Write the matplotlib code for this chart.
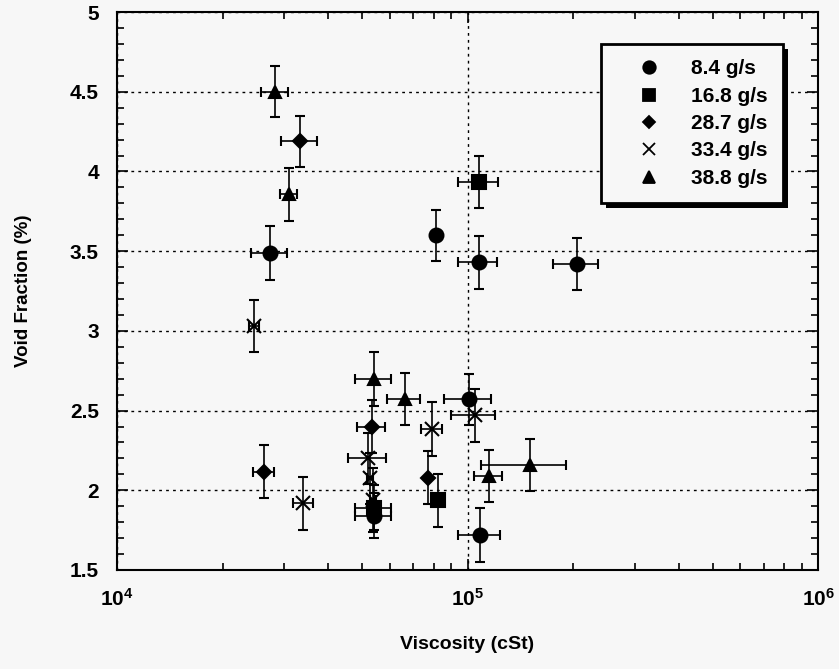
import numpy as np
import matplotlib
matplotlib.use("Agg")
import matplotlib.pyplot as plt
from matplotlib.lines import Line2D
from matplotlib.patches import Rectangle
from matplotlib.transforms import IdentityTransform
from matplotlib.ticker import MultipleLocator, LogLocator, FixedLocator, FixedFormatter

plt.rcParams['font.family'] = ['Liberation Sans', 'DejaVu Sans']
plt.rcParams['font.weight'] = 'bold'
plt.rcParams['mathtext.fontset'] = 'custom'
plt.rcParams['mathtext.rm'] = 'Liberation Sans:bold'
plt.rcParams['mathtext.default'] = 'rm'

#******** Data **********************************
labels = ['8.4 g/s', '16.8 g/s', '28.7 g/s', '33.4 g/s', '38.8 g/s']
markers = ['o', 's', 'D', 'x', '^']

# 8.4 g/s
visc_84 = [27300, 81100, 107700, 205000, 101300, 108700, 54000]
void_84 = [3.49, 3.60, 3.43, 3.42, 2.57, 1.72, 1.84]
xerr_84 = [3200, 1500, 14000, 30000, 15500, 15000, 6300]
yerr_84 = [0.17, 0.16, 0.165, 0.165, 0.16, 0.17, 0.14]

# 16.8 g/s
visc_168 = [108000, 82200, 54000]
void_168 = [3.935, 1.937, 1.89]
xerr_168 = [14000, 1500, 6300]
yerr_168 = [0.165, 0.165, 0.14]

# 28.7 g/s
visc_287 = [33200, 26200, 53300, 77100]
void_287 = [4.19, 2.116, 2.40, 2.08]
xerr_287 = [3900, 1800, 4900, 1200]
yerr_287 = [0.16, 0.165, 0.165, 0.165]

# 33.4 g/s
visc_334 = [24600, 34000, 52100, 52800, 53700, 79100, 104800]
void_334 = [3.03, 1.918, 2.20, 2.075, 1.94, 2.384, 2.47]
xerr_334 = [800, 2300, 6500, 1000, 1000, 5300, 15000]
yerr_334 = [0.165, 0.165, 0.16, 0.16, 0.2, 0.17, 0.165]

# 38.8 g/s
visc_388 = [28300, 30900, 54000, 66100, 115000, 150500]
void_388 = [4.50, 3.856, 2.70, 2.572, 2.089, 2.158]
xerr_388 = [2500, 1800, 6400, 7000, 10500, 41000]
yerr_388 = [0.16, 0.165, 0.17, 0.165, 0.165, 0.165]

series = [(visc_84, void_84, xerr_84, yerr_84),
          (visc_168, void_168, xerr_168, yerr_168),
          (visc_287, void_287, xerr_287, yerr_287),
          (visc_334, void_334, xerr_334, yerr_334),
          (visc_388, void_388, xerr_388, yerr_388)]
msizes = [10, 10, 7, 10, 9]

bg = '#f7f7f7'
fig = plt.figure(figsize=(8.39, 6.69), dpi=100, facecolor=bg)
ax = fig.add_axes([0.1395, 0.148, 0.8355, 0.834], facecolor=bg)

for (x, y, xe, ye), m, ms in zip(series, markers, msizes):
    ax.errorbar(x, y, xerr=xe, yerr=ye, fmt=m, color='k', ms=ms, mew=1.5,
                ecolor='k', elinewidth=1.2, capsize=3.5, capthick=1.2, zorder=3)

ax.set_xscale('log')
ax.set_xlim(1e4, 1e6)
ax.set_ylim(1.5, 5)

ax.xaxis.set_major_locator(FixedLocator([1e4, 1e5, 1e6]))
ax.xaxis.set_major_formatter(FixedFormatter([r'$10^{4}$', r'$10^{5}$', r'$10^{6}$']))
ax.xaxis.set_minor_locator(LogLocator(base=10, subs=np.arange(2, 10)))
ax.yaxis.set_minor_locator(MultipleLocator(0.1))
ax.set_yticks([1.5, 2, 2.5, 3, 3.5, 4, 4.5, 5])
ax.set_yticklabels(['1.5', '2', '2.5', '3', '3.5', '4', '4.5', '5'])

ax.tick_params(which='both', direction='in', top=True, right=True, width=1.2)
ax.tick_params(which='major', length=8)
ax.tick_params(which='minor', length=5)
ax.tick_params(axis='x', which='major', pad=13, labelsize=15)
ax.tick_params(axis='y', which='major', pad=13, labelsize=15)

for s in ax.spines.values():
    s.set_linewidth(1.5)

ax.grid(True, which='major', color='k', linestyle=(0, (2, 3)), linewidth=1)

ax.set_xlabel('Viscosity (cSt)', fontsize=14, fontweight='bold', labelpad=19)
ax.set_ylabel('Void Fraction (%)', fontsize=13.5, fontweight='bold', labelpad=27)

handles = [Line2D([], [], marker=m, color='k', linestyle='none', ms=ms * 0.9, mew=1.3)
           for m, ms in zip(markers, msizes)]
leg = ax.legend(handles, labels, loc='upper right', bbox_to_anchor=(0.950, 0.943),
                borderaxespad=0, fontsize=15, frameon=True, fancybox=False,
                edgecolor='k', framealpha=1, facecolor=bg, borderpad=0.75,
                labelspacing=0.4, handletextpad=0.45, handlelength=3.1)
leg.get_frame().set_linewidth(2)
leg.set_zorder(6)
for t in leg.get_texts():
    t.set_fontweight('bold')

# offset black shadow behind the legend box
fig.canvas.draw()
bb = leg.get_window_extent()
ax.add_artist(Rectangle((bb.x0 + 5, bb.y0 - 5), bb.width, bb.height,
                        transform=IdentityTransform(), facecolor='k',
                        edgecolor='none', zorder=5.5))

fig.savefig('out.png', dpi=100, facecolor=bg)
